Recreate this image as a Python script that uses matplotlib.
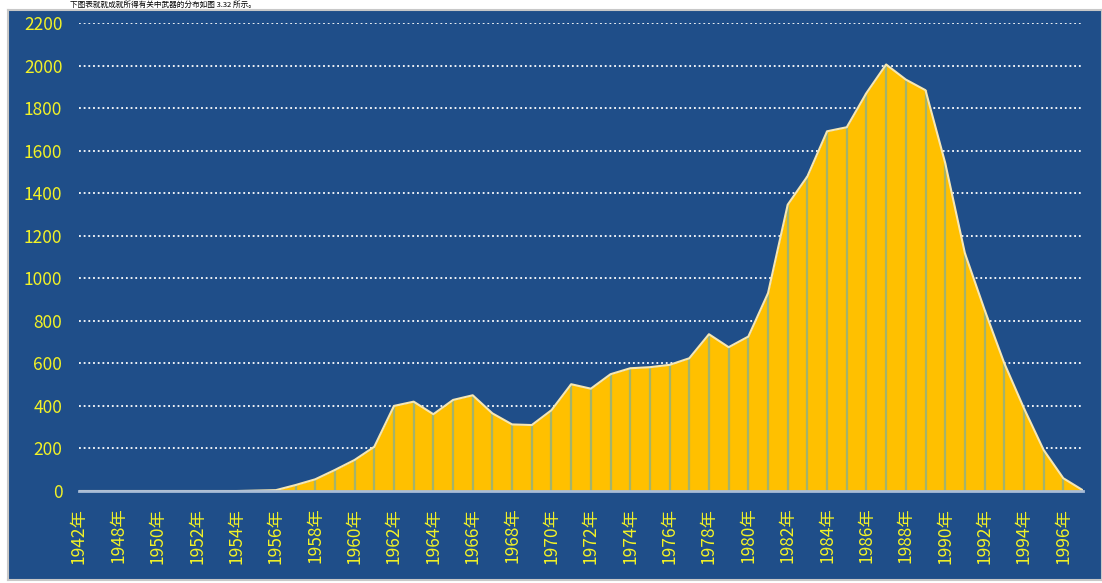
import matplotlib
matplotlib.use("Agg")
import matplotlib.pyplot as plt
from matplotlib.patches import Rectangle

categories = ["1942年", "1947年"] + [f"{y}年" for y in range(1948, 1998)]
values = [0, 0, 0, 0, 0, 0, 0, 0, 0, 2, 4, 28, 55, 99, 146, 208,
          400, 420, 361, 428, 450, 365, 313, 310, 380, 502, 481, 549, 577, 582,
          593, 624, 737, 676, 726, 930, 1346, 1479, 1691, 1710, 1871, 2005, 1934,
          1884, 1542, 1118, 852, 601, 389, 193, 60, 3]
yticks = [0, 200, 400, 600, 800, 1000, 1200, 1400, 1600, 1800, 2000, 2200]

W, H = 1102, 583
fig = plt.figure(figsize=(W / 100, H / 100), dpi=100)
fig.patch.set_facecolor("white")

BG = "#1f4e89"
YEL = "#f2f227"
FONT = ["Noto Sans CJK SC", "DejaVu Sans"]

# chart background
bg = fig.add_axes([8 / W, 1 - 580 / H, (W - 8) / W, 570 / H])
bg.set_zorder(0)
bg.set_facecolor(BG)
bg.set_xticks([])
bg.set_yticks([])
for s in bg.spines.values():
    s.set_color("#c8c8c8")
    s.set_linewidth(1.5)

# caption above the chart
fig.text(70 / W, 1 - 1 / H, "下图表就就成就所得有关中武器的分布如图 3.32 所示。",
         family=FONT, fontsize=5.5, color="black", va="top", ha="left")

ax = fig.add_axes([79 / W, 1 - 491 / H, (1083 - 79) / W, (491 - 23) / H])
ax.set_zorder(1)
ax.set_facecolor("none")
x = list(range(len(categories)))

for yv in yticks[1:]:
    ax.axhline(yv, color="white", linewidth=1.3, linestyle=(0, (1, 1.6)), zorder=1)

ax.fill_between(x, values, 0, color="#ffc000", linewidth=0, zorder=2)
ax.vlines(x, 0, values, color="#a3b36c", linewidth=1.6, zorder=3)
ax.plot(x, values, color="#f6e7b4", linewidth=1.5, zorder=4)

ax.set_xlim(0, len(categories) - 1)
ax.set_ylim(0, 2200)
ax.set_yticks(yticks)
ax.set_yticklabels([str(v) for v in yticks], color=YEL, fontsize=12.5, family=FONT)
ax.set_xticks(x[::2])
ax.set_xticklabels(categories[::2], rotation=90, color=YEL, fontsize=12.5,
                   family=FONT, va="top", ha="center")
ax.tick_params(axis="both", length=0)
ax.tick_params(axis="x", pad=12)
ax.tick_params(axis="y", pad=12)
for s in ["top", "right", "left"]:
    ax.spines[s].set_visible(False)
ax.spines["bottom"].set_color("#a9bcd6")
ax.spines["bottom"].set_linewidth(2)
ax.spines["bottom"].set_zorder(5)

fig.savefig("out.png", dpi=100)
